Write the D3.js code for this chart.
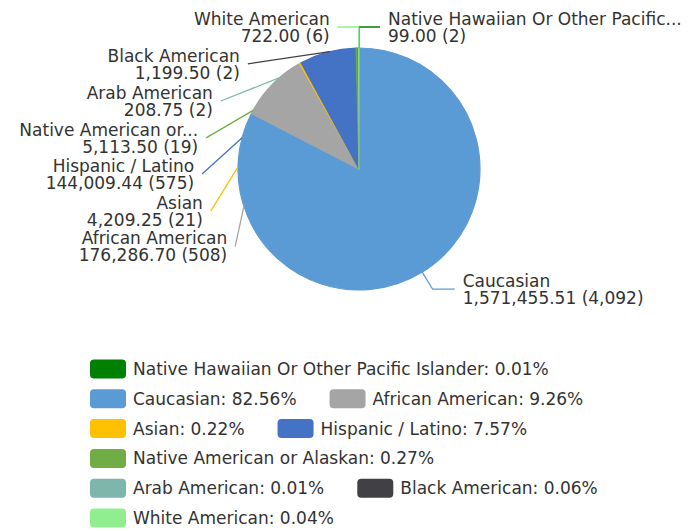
<!DOCTYPE html>
<html>
<head>
<meta charset="utf-8">
<script src="https://cdn.jsdelivr.net/npm/d3@7"></script>
<style>
  body { margin: 0; background: #fff; }
  svg { display: block; font-family: "DejaVu Sans", sans-serif; }
</style>
</head>
<body>
<div id="chart"></div>
<script>
// data
const categories = ["Native Hawaiian Or Other Pacific Islander", "Caucasian", "African American", "Asian",
  "Hispanic / Latino", "Native American or Alaskan", "Arab American", "Black American", "White American"];
const pieLabels = ["Native Hawaiian Or Other Pacific...", "Caucasian", "African American", "Asian",
  "Hispanic / Latino", "Native American or...", "Arab American", "Black American", "White American"];
const amounts = [99.00, 1571455.51, 176286.70, 4209.25, 144009.44, 5113.50, 208.75, 1199.50, 722.00];
const counts = [2, 4092, 508, 21, 575, 19, 2, 2, 6];
const colors = ["#008000", "#5b9bd5", "#a5a5a5", "#ffc000", "#4472c4", "#70ad47", "#7fb6ac", "#404045", "#90ee90"];

// where each outside label sits (degrees from 12 o'clock, clockwise)
const labelLayout = [
  { type: "top", dir: 1 },
  { type: "elbow", angle: 148.5 },
  { type: "left", inner: -108, outer: -122, r: 146 },
  { type: "left", inner: -89, outer: -105.8, r: 154 },
  { type: "left", inner: -75, outer: -91.8, r: 157 },
  { type: "left", inner: -61, outer: -78.5, r: 156 },
  { type: "left", inner: -41, outer: -63.8, r: 154 },
  { type: "left", inner: -14, outer: -46.6, r: 153 },
  { type: "top", dir: -1 }
];

var w = 693, h = 531;
var cx = 359, cy = 169, radius = 121;
var fontSize = 17;
var textColor = "#333";

var data = categories.map(function (c, i) {
  return { name: c, label: pieLabels[i], amount: amounts[i], count: counts[i], color: colors[i], layout: labelLayout[i] };
});
var total = d3.sum(amounts);
var fmtAmount = d3.format(",.2f");
var fmtCount = d3.format(",");
var fmtPct = d3.format(".2%");

var svg = d3.select("#chart").append("svg")
  .attr("width", w)
  .attr("height", h);

var chart = svg.append("g")
  .attr("transform", "translate(" + cx + "," + cy + ")");

var pie = d3.pie().sort(null).value(function (d) { return d.amount; });
var arc = d3.arc().innerRadius(0).outerRadius(radius);

chart.selectAll("path.slice")
  .data(pie(data))
  .enter().append("path")
  .attr("class", "slice")
  .attr("d", arc)
  .attr("fill", function (d) { return d.data.color; })
  .attr("stroke", function (d) { return d.data.color; })
  .attr("stroke-width", 1.2);

///////////////////////////// Labels

var rad = function (deg) { return deg * Math.PI / 180; };
var line = d3.line();

pie(data).forEach(function (p) {
  var d = p.data, L = d.layout;
  var pts, tx, ty, anchor;
  if (L.type === "top") {
    var a0 = d3.pointRadial(p.startAngle, radius);
    var a1 = d3.pointRadial(p.startAngle, radius + 21);
    var a2 = [a1[0] + L.dir * 21, a1[1]];
    pts = [a0, a1, a2];
    tx = a2[0] + L.dir * 8; ty = a2[1];
    anchor = L.dir > 0 ? "start" : "end";
  } else if (L.type === "elbow") {
    var b0 = d3.pointRadial(rad(L.angle), radius);
    var b1 = d3.pointRadial(rad(L.angle), radius + 20);
    var b2 = [b1[0] + 22, b1[1]];
    pts = [b0, b1, b2];
    tx = b2[0] + 8; ty = b2[1];
    anchor = "start";
  } else {
    var c0 = d3.pointRadial(rad(L.inner), radius);
    var c1 = d3.pointRadial(rad(L.outer), L.r);
    pts = [c0, c1];
    tx = c1[0] - 8; ty = c1[1];
    anchor = "end";
  }

  chart.append("path")
    .attr("d", line(pts))
    .attr("fill", "none")
    .attr("stroke", d.color)
    .attr("stroke-width", 1.3);

  var t = chart.append("text")
    .attr("x", tx)
    .attr("y", ty - 2)
    .attr("text-anchor", anchor)
    .attr("font-size", fontSize)
    .attr("fill", textColor);
  t.append("tspan").attr("x", tx).text(d.label);
  t.append("tspan").attr("x", tx).attr("dy", 17)
    .text(fmtAmount(d.amount) + " (" + fmtCount(d.count) + ")");
});

///////////////////////////// Legend

var legend = svg.append("g").attr("class", "legend");
var lx0 = 90, lmax = 620, rowH = 29.8, ly0 = 369;
var lx = lx0, row = 0;

data.forEach(function (d) {
  var item = legend.append("g");
  item.append("rect")
    .attr("width", 36).attr("height", 19)
    .attr("y", -9.5).attr("rx", 4)
    .attr("fill", d.color);
  var txt = item.append("text")
    .attr("x", 43).attr("y", 6)
    .attr("font-size", fontSize)
    .attr("fill", textColor)
    .text(d.name + ": " + fmtPct(d.amount / total));
  var iw = 43 + txt.node().getComputedTextLength();
  if (lx > lx0 && lx + iw > lmax) { lx = lx0; row++; }
  item.attr("transform", "translate(" + lx + "," + (ly0 + row * rowH) + ")");
  lx += iw + 33;
});
</script>
</body>
</html>
